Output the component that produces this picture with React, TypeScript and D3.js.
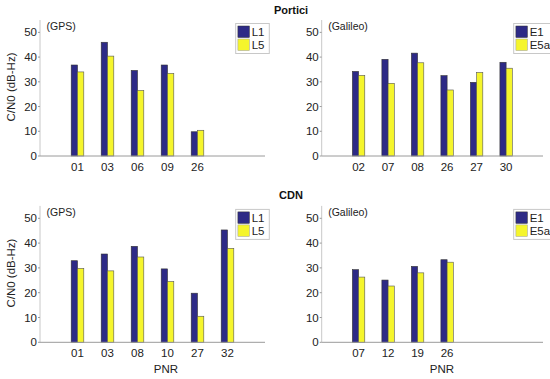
import React from "react";
import * as d3 from "d3";

// ---- Data ----
const porticiGpsPnr = ["01", "03", "06", "09", "26"];
const porticiGpsL1 = [36.8, 46, 34.6, 36.8, 9.8];
const porticiGpsL5 = [34, 40.4, 26.5, 33.4, 10.4];

const porticiGalPnr = ["02", "07", "08", "26", "27", "30"];
const porticiGalE1 = [34.2, 39.1, 41.6, 32.5, 29.8, 37.9];
const porticiGalE5a = [32.6, 29.4, 37.7, 26.7, 33.8, 35.5];

const cdnGpsPnr = ["01", "03", "08", "10", "27", "32"];
const cdnGpsL1 = [32.9, 35.6, 38.7, 29.6, 19.8, 45.3];
const cdnGpsL5 = [29.8, 28.8, 34.4, 24.5, 10.5, 37.9];

const cdnGalPnr = ["07", "12", "19", "26"];
const cdnGalE1 = [29.3, 25.1, 30.6, 33.3];
const cdnGalE5a = [26.3, 22.7, 28.0, 32.3];

const yTicks = [0, 10, 20, 30, 40, 50];
const gpsSeries = ["L1", "L5"];
const galSeries = ["E1", "E5a"];

const BLUE = "#2d2a86";
const YELLOW = "#f5f52c";
const FONT = "'Liberation Sans', Arial, Helvetica, sans-serif";

type PanelProps = {
  x0: number;
  x1: number;
  yZero: number;
  yTop: number;
  cats: string[];
  a: number[];
  b: number[];
  names: string[];
  tag: string;
  legendW: number;
  showYLabel: boolean;
  showXLabel: boolean;
  xLabelX: number;
};

function Panel(p: PanelProps) {
  const x = d3.scaleLinear().domain([0, 7.5]).range([p.x0, p.x1]);
  const y = d3.scaleLinear().domain([0, 55]).range([p.yZero, p.yTop]);
  const bw = 0.21;
  const axisColor = "#9a9a9a";
  const legX = p.x1 - 29.3;
  const legTop = p.yTop + 3.5;
  return (
    <g>
      {/* y axis */}
      <line x1={p.x0} x2={p.x0} y1={y(0)} y2={y(55)} stroke="#c8c8c8" strokeWidth={1} />
      {yTicks.map((t) => (
        <g key={t}>
          <line x1={p.x0 - 2} x2={p.x0} y1={y(t)} y2={y(t)} stroke={axisColor} strokeWidth={1} />
          <text x={p.x0 - 3} y={y(t) + 4} fontSize={11.5} textAnchor="end" fontFamily={FONT} fill="#222">
            {t}
          </text>
        </g>
      ))}
      {/* bars */}
      {p.cats.map((c, i) => {
        const cx = 1.25 + i;
        return (
          <g key={c}>
            <rect
              x={x(cx - bw)}
              y={y(p.a[i])}
              width={x(cx) - x(cx - bw)}
              height={y(0) - y(p.a[i])}
              fill={BLUE}
              stroke="#333"
              strokeWidth={0.6}
            />
            <rect
              x={x(cx)}
              y={y(p.b[i])}
              width={x(cx + bw) - x(cx)}
              height={y(0) - y(p.b[i])}
              fill={YELLOW}
              stroke="#555"
              strokeWidth={0.6}
            />
            <text x={x(cx)} y={p.yZero + 14.5} fontSize={11.5} textAnchor="middle" fontFamily={FONT} fill="#222">
              {c}
            </text>
          </g>
        );
      })}
      {/* x axis */}
      <line x1={p.x0} x2={p.x1} y1={y(0)} y2={y(0)} stroke={axisColor} strokeWidth={1} />
      {/* tag */}
      <text x={p.x0 + 6.5} y={p.yTop + 10} fontSize={10.5} fontFamily={FONT} fill="#222">
        {p.tag}
      </text>
      {/* legend */}
      <rect x={legX} y={legTop} width={p.legendW} height={30} fill="#fff" stroke="#c8c8c8" strokeWidth={1} />
      {p.names.map((n, k) => (
        <g key={n}>
          <rect
            x={legX + 2.2}
            y={legTop + 2.5 + k * 13}
            width={11.5}
            height={11.5}
            fill={k === 0 ? BLUE : YELLOW}
            stroke={k === 0 ? "#333" : "#999"}
            strokeWidth={0.5}
          />
          <text x={legX + 16} y={legTop + 12.5 + k * 13} fontSize={11.5} fontFamily={FONT} fill="#222">
            {n}
          </text>
        </g>
      ))}
      {p.showYLabel && (
        <text
          transform={`translate(${14.5},${(y(0) + y(55)) / 2 - 1}) rotate(-90)`}
          fontSize={11.5}
          textAnchor="middle"
          fontFamily={FONT}
          fill="#222"
        >
          C/N0 (dB-Hz)
        </text>
      )}
      {p.showXLabel && (
        <text x={p.xLabelX} y={p.yZero + 31} fontSize={11.5} textAnchor="middle" fontFamily={FONT} fill="#222">
          PNR
        </text>
      )}
    </g>
  );
}

export default function App() {
  return (
    <svg
      width={550}
      height={379}
      style={{ position: "absolute", left: 0, top: 0, background: "#fff" }}
    >
      <rect width={550} height={379} fill="#fff" />
      <text x={291} y={13.5} fontSize={11} fontWeight="bold" textAnchor="middle" fontFamily={FONT} fill="#111">
        Portici
      </text>
      <text x={291} y={199} fontSize={11} fontWeight="bold" textAnchor="middle" fontFamily={FONT} fill="#111">
        CDN
      </text>
      <Panel
        x0={40}
        x1={265}
        yZero={156}
        yTop={20}
        cats={porticiGpsPnr}
        a={porticiGpsL1}
        b={porticiGpsL5}
        names={gpsSeries}
        tag="(GPS)"
        legendW={33.6}
        showYLabel={true}
        showXLabel={false}
        xLabelX={166}
      />
      <Panel
        x0={321.7}
        x1={543}
        yZero={156}
        yTop={20}
        cats={porticiGalPnr}
        a={porticiGalE1}
        b={porticiGalE5a}
        names={galSeries}
        tag="(Galileo)"
        legendW={40}
        showYLabel={false}
        showXLabel={false}
        xLabelX={442}
      />
      <Panel
        x0={40}
        x1={265}
        yZero={342.3}
        yTop={205.9}
        cats={cdnGpsPnr}
        a={cdnGpsL1}
        b={cdnGpsL5}
        names={gpsSeries}
        tag="(GPS)"
        legendW={33.6}
        showYLabel={true}
        showXLabel={true}
        xLabelX={166}
      />
      <Panel
        x0={321.7}
        x1={543}
        yZero={342.3}
        yTop={205.9}
        cats={cdnGalPnr}
        a={cdnGalE1}
        b={cdnGalE5a}
        names={galSeries}
        tag="(Galileo)"
        legendW={40}
        showYLabel={false}
        showXLabel={true}
        xLabelX={442}
      />
    </svg>
  );
}
